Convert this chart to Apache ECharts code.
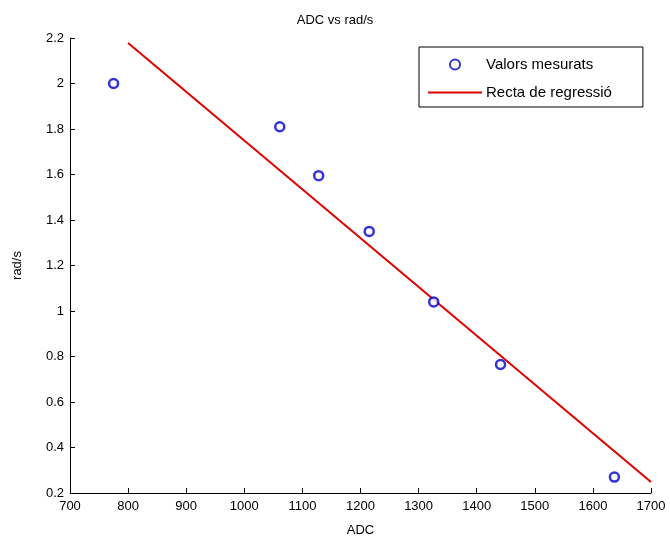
<!DOCTYPE html>
<html>
<head>
<meta charset="utf-8">
<script src="https://cdn.jsdelivr.net/npm/echarts@6/dist/echarts.min.js"></script>
<style>
html, body { margin: 0; padding: 0; background: #fff; }
#chart { width: 670px; height: 542px; }
</style>
</head>
<body>
<div id="chart"></div>
<script>
// valors mesurats (ADC, rad/s)
var adcMesurat = [775, 1061, 1128, 1215, 1326, 1441, 1637];
var radMesurat = [2.00, 1.81, 1.595, 1.35, 1.04, 0.765, 0.27];
// extrems de la recta de regressio
var adcRecta = [800, 1700];
var radRecta = [2.178, 0.248];

var chart = echarts.init(document.getElementById('chart'));

var puntsMesurats = [];
for (var i = 0; i < adcMesurat.length; i++) {
	puntsMesurats.push([adcMesurat[i], radMesurat[i]]);
}
var puntsRecta = [];
for (var j = 0; j < adcRecta.length; j++) {
	puntsRecta.push([adcRecta[j], radRecta[j]]);
}

var font = 'Liberation Sans, Arial, sans-serif';

var option = {
	animation : false,
	backgroundColor : '#fff',
	title : {
		text : 'ADC vs rad/s',
		left : 'center',
		top : 9,
		textStyle : { fontSize : 13, fontWeight : 'normal', color : '#000', fontFamily : font }
	},
	legend : {
		orient : 'vertical',
		left : 419,
		top : 47,
		padding : [10, 31, 7, 9],
		itemWidth : 54,
		itemHeight : 10,
		itemGap : 13,
		borderColor : '#000',
		borderWidth : 1,
		backgroundColor : '#fff',
		textStyle : { fontSize : 15, color : '#000', fontFamily : font, padding : [0, 0, 0, -1] },
		data : [ 'Valors mesurats', {
			name : 'Recta de regressió',
			icon : 'path://M0,0 L54,0 L54,2 L0,2 Z',
			itemStyle : { color : '#e00000' }
		} ]
	},
	grid : {
		left : 70,
		right : 19,
		top : 38,
		bottom : 47
	},
	xAxis : {
		type : 'value',
		min : 700,
		max : 1700,
		interval : 100,
		name : 'ADC',
		nameLocation : 'middle',
		nameGap : 31,
		nameTextStyle : { fontSize : 13, color : '#000', fontFamily : font },
		axisLine : { lineStyle : { color : '#000', width : 1 } },
		axisTick : { inside : true, length : 5, lineStyle : { color : '#000' } },
		axisLabel : {
			fontSize : 13, color : '#000', fontFamily : font, margin : 7,
			formatter : function(v) { return String(v); }
		},
		splitLine : { show : false }
	},
	yAxis : {
		type : 'value',
		min : 0.2,
		max : 2.2,
		interval : 0.2,
		name : 'rad/s',
		nameLocation : 'middle',
		nameGap : 46,
		nameTextStyle : { fontSize : 13, color : '#000', fontFamily : font },
		axisLine : { show : true, lineStyle : { color : '#000', width : 1 } },
		axisTick : { show : true, inside : true, length : 5, lineStyle : { color : '#000' } },
		axisLabel : {
			fontSize : 13, color : '#000', fontFamily : font, margin : 6,
			formatter : function(v) { return String(Math.round(v * 10) / 10); }
		},
		splitLine : { show : false }
	},
	series : [ {
		name : 'Valors mesurats',
		type : 'scatter',
		symbol : 'circle',
		symbolSize : 9,
		itemStyle : { color : '#fff', borderColor : '#0000cc', borderWidth : 2.5 },
		data : puntsMesurats,
		z : 3
	}, {
		name : 'Recta de regressió',
		type : 'line',
		symbol : 'none',
		lineStyle : { color : '#e00000', width : 2 },
		itemStyle : { color : '#e00000' },
		data : puntsRecta,
		z : 2
	} ]
};
chart.setOption(option);
</script>
</body>
</html>
